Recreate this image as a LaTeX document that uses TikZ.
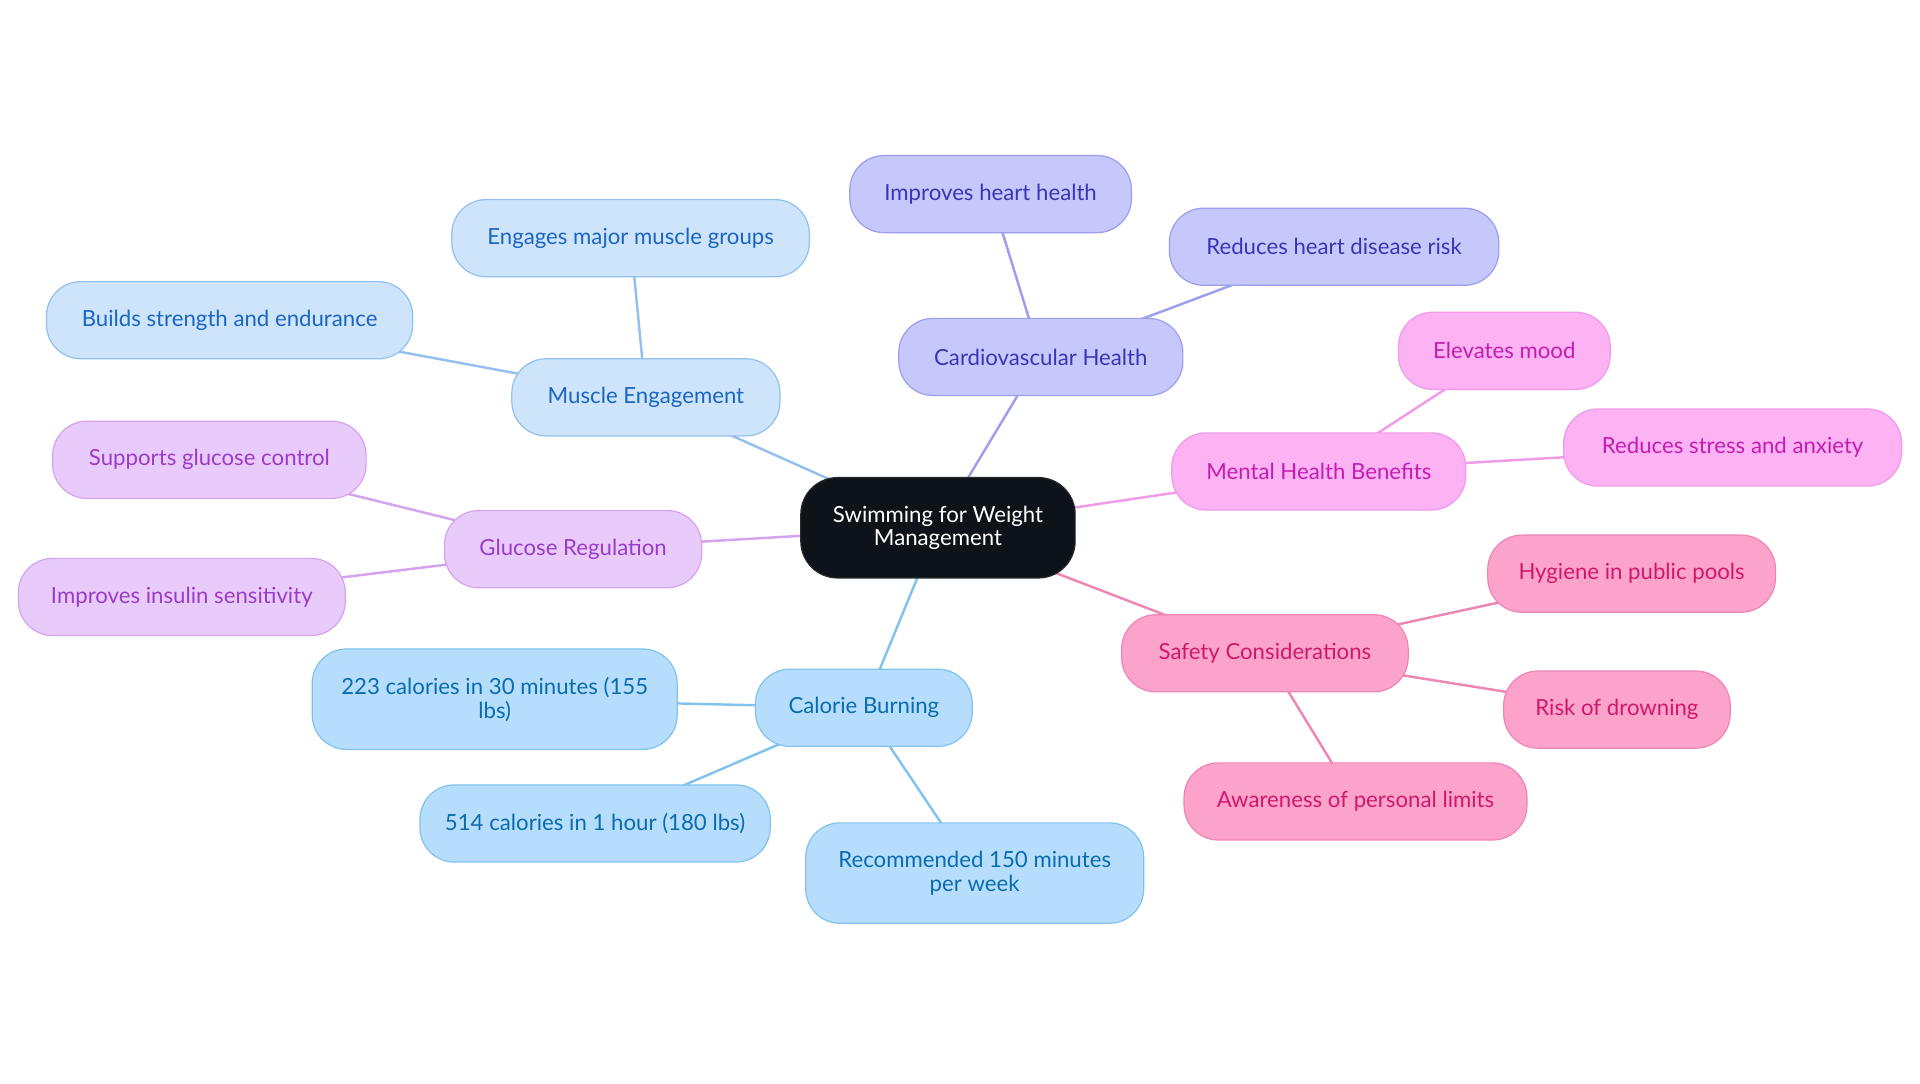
\documentclass[tikz,border=0pt]{standalone}
\usepackage{fontspec}
\setmainfont{Lato}
\usetikzlibrary{backgrounds}
\definecolor{cfill}{HTML}{0E1319}
\definecolor{bfill}{HTML}{CDE4FB}\definecolor{bline}{HTML}{93C0EE}\definecolor{btext}{HTML}{1A66C2}
\definecolor{vfill}{HTML}{C6C8FB}\definecolor{vline}{HTML}{9C9EEE}\definecolor{vtext}{HTML}{3A35B8}
\definecolor{mfill}{HTML}{FDB3F3}\definecolor{mline}{HTML}{F09AE8}\definecolor{mtext}{HTML}{C41CB3}
\definecolor{sfill}{HTML}{FCA3CB}\definecolor{sline}{HTML}{EE86B5}\definecolor{stext}{HTML}{D0186A}
\definecolor{kfill}{HTML}{B6DEFC}\definecolor{kline}{HTML}{82C3EE}\definecolor{ktext}{HTML}{0A6CB0}
\definecolor{gfill}{HTML}{E9CBFB}\definecolor{gline}{HTML}{D3A3F0}\definecolor{gtext}{HTML}{9B3BC9}
\tikzset{
  pill/.style={rectangle, rounded corners=28bp, minimum height=63bp, inner sep=0pt, line width=1bp, align=center, font=\fontsize{18.2}{19.5}\selectfont},
  centre/.style={pill, fill=cfill, draw=cfill!80!gray, text=white, rounded corners=30bp, minimum height=82bp, minimum width=224bp},
  bnode/.style={pill, fill=bfill, draw=bline, text=btext},
  vnode/.style={pill, fill=vfill, draw=vline, text=vtext},
  mnode/.style={pill, fill=mfill, draw=mline, text=mtext},
  snode/.style={pill, fill=sfill, draw=sline, text=stext},
  knode/.style={pill, fill=kfill, draw=kline, text=ktext},
  gnode/.style={pill, fill=gfill, draw=gline, text=gtext},
  link/.style={line width=2bp},
}
\begin{document}
\begin{tikzpicture}[x=1bp, y=-1bp]
\useasboundingbox (0,0) rectangle (1568,884.5);
\node[centre] (c) at (766,431) {Swimming for Weight\\Management};
% Muscle
\node[bnode, minimum width=219bp] (me) at (527.5,324.5) {Muscle Engagement};
\node[bnode, minimum width=292bp] (me1) at (515,194.5) {Engages major muscle groups};
\node[bnode, minimum width=299bp] (me2) at (187.5,261.5) {Builds strength and endurance};
% Cardio
\node[vnode, minimum width=232bp] (cv) at (850,291.5) {Cardiovascular Health};
\node[vnode, minimum width=230bp] (cv1) at (809,158.5) {Improves heart health};
\node[vnode, minimum width=269bp] (cv2) at (1089.5,201.5) {Reduces heart disease risk};
% Mental
\node[mnode, minimum width=240bp] (mh) at (1077,385) {Mental Health Benefits};
\node[mnode, minimum width=173bp] (mh1) at (1228.5,286.5) {Elevates mood};
\node[mnode, minimum width=276bp] (mh2) at (1415,365.5) {Reduces stress and anxiety};
% Safety
\node[snode, minimum width=234bp] (sc) at (1033,533.5) {Safety Considerations};
\node[snode, minimum width=235bp] (sc1) at (1332.5,468.5) {Hygiene in public pools};
\node[snode, minimum width=185bp] (sc2) at (1320.5,579.5) {Risk of drowning};
\node[snode, minimum width=280bp] (sc3) at (1107,654.5) {Awareness of personal limits};
% Calorie
\node[knode, minimum width=177bp] (cb) at (705.5,578) {Calorie Burning};
\node[knode, minimum width=298bp, minimum height=82bp] (cb1) at (404,571) {223 calories in 30 minutes (155\\lbs)};
\node[knode, minimum width=286bp] (cb2) at (486,672.5) {514 calories in 1 hour (180 lbs)};
\node[knode, minimum width=276bp, minimum height=82bp] (cb3) at (796,713) {Recommended 150 minutes\\per week};
% Glucose
\node[gnode, minimum width=210bp] (gr) at (468,448.5) {Glucose Regulation};
\node[gnode, minimum width=256bp] (gr1) at (171,375.5) {Supports glucose control};
\node[gnode, minimum width=267bp] (gr2) at (148.5,487.5) {Improves insulin sensitivity};
\begin{scope}[on background layer]
\fill[white] (0,0) rectangle (1568,884.5);
\draw[link, bline] (c.center) -- (me.center);
\draw[link, bline] (me.center) -- (me1.center);
\draw[link, bline] (me.center) -- (me2.center);
\draw[link, vline] (c.center) -- (cv.center);
\draw[link, vline] (cv.center) -- (cv1.center);
\draw[link, vline] (cv.center) -- (cv2.center);
\draw[link, mline] (c.center) -- (mh.center);
\draw[link, mline] (mh.center) -- (mh1.center);
\draw[link, mline] (mh.center) -- (mh2.center);
\draw[link, sline] (c.center) -- (sc.center);
\draw[link, sline] (sc.center) -- (sc1.center);
\draw[link, sline] (sc.center) -- (sc2.center);
\draw[link, sline] (sc.center) -- (sc3.center);
\draw[link, kline] (c.center) -- (cb.center);
\draw[link, kline] (cb.center) -- (cb1.center);
\draw[link, kline] (cb.center) -- (cb2.center);
\draw[link, kline] (cb.center) -- (cb3.center);
\draw[link, gline] (c.center) -- (gr.center);
\draw[link, gline] (gr.center) -- (gr1.center);
\draw[link, gline] (gr.center) -- (gr2.center);
\end{scope}
\end{tikzpicture}
\end{document}
